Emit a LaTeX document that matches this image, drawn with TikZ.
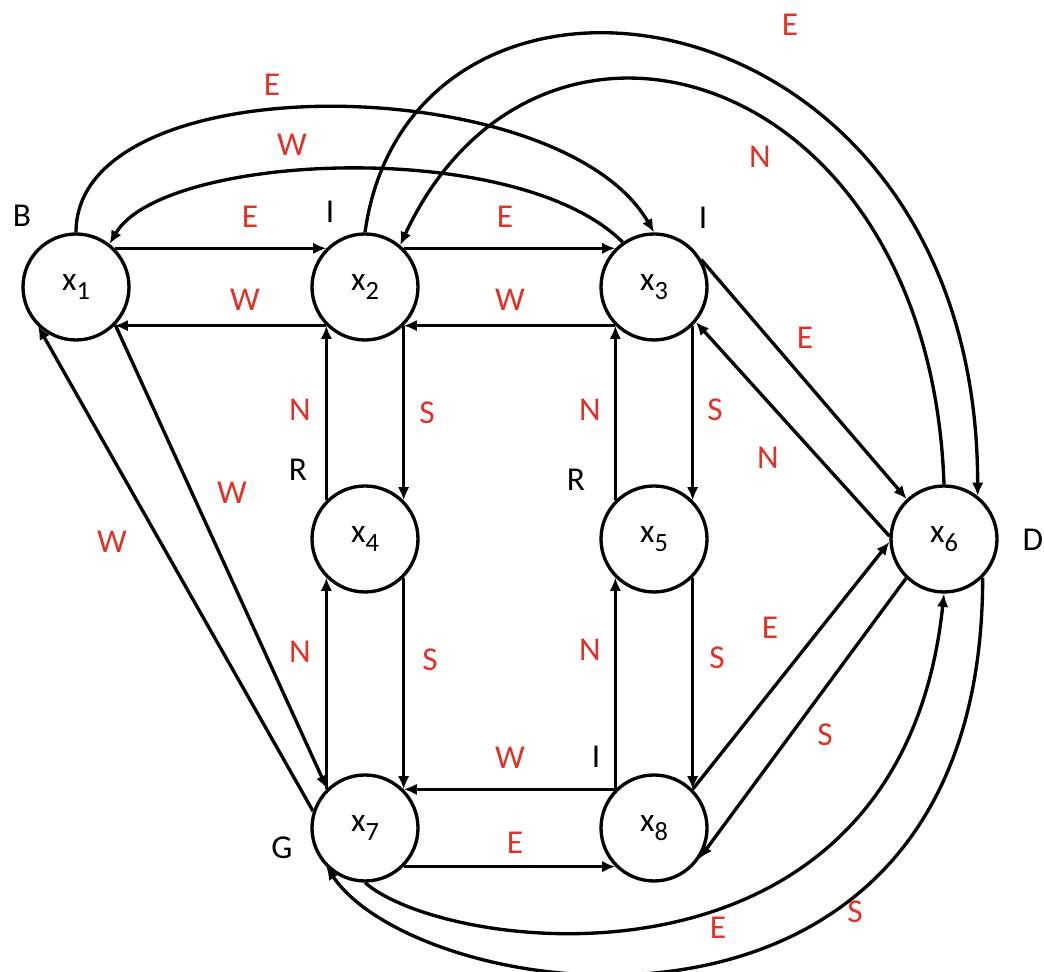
\documentclass[tikz,border=0pt]{standalone}
\usepackage{fontspec}
\setmainfont{Carlito}
\definecolor{dirred}{RGB}{224,50,38}
\usetikzlibrary{arrows.meta}
\newcommand{\xn}[1]{x\raisebox{-.55ex}{\fontsize{15}{15}\selectfont #1}}

\begin{document}
\begin{tikzpicture}[
  st/.style={draw, circle, line width=1.9pt, minimum size=2.12cm, inner sep=0pt, font=\fontsize{19}{22}\selectfont},
  arr/.style={line width=1.9pt, -{Latex[length=7.5pt,width=6.5pt]}},
  dirlbl/.style={text=dirred, font=\fontsize{19}{22}\selectfont},
  taglbl/.style={font=\fontsize{19}{22}\selectfont}
]
  \useasboundingbox (0,0) rectangle (20.88,19.44);

  \node[st] (x1) at (1.52,13.70) {\xn{1}};
  \node[st] (x2) at (7.30,13.70) {\xn{2}};
  \node[st] (x3) at (13.08,13.70) {\xn{3}};
  \node[st] (x4) at (7.30,8.66) {\xn{4}};
  \node[st] (x5) at (13.08,8.66) {\xn{5}};
  \node[st] (x6) at (18.88,8.66) {\xn{6}};
  \node[st] (x7) at (7.30,2.88) {\xn{7}};
  \node[st] (x8) at (13.08,2.88) {\xn{8}};

  \draw[arr] (x1.45) -- (x2.135);
  \draw[arr] (x2.-135) -- (x1.-45);
  \draw[arr] (x2.45) -- (x3.135);
  \draw[arr] (x3.-135) -- (x2.-45);
  \draw[arr] (x2.-45) -- (x4.45);
  \draw[arr] (x4.135) -- (x2.-135);
  \draw[arr] (x4.-45) -- (x7.45);
  \draw[arr] (x7.135) -- (x4.-135);
  \draw[arr] (x3.-45) -- (x5.45);
  \draw[arr] (x5.135) -- (x3.-135);
  \draw[arr] (x5.-45) -- (x8.45);
  \draw[arr] (x8.135) -- (x5.-135);
  \draw[arr] (x8.135) -- (x7.45);
  \draw[arr] (x7.-45) -- (x8.-135);
  \draw[arr] (x3.30) -- (x6.133);
  \draw[arr] (x6.177) -- (x3.-40);
  \draw[arr] (x8.45) -- (x6.183);
  \draw[arr] (x6.-134) -- (x8.-34);
  \draw[arr] (x7.162) -- (x1.-134);
  \draw[arr] (x1.-44) -- (x7.134);

  \draw[arr] (x1.north) .. controls +(90:3.4) and +(120:3.76) .. (x3.north);
  \draw[arr] (x3.125) .. controls +(135:3) and +(60:2.1) .. (x1.52);
  \draw[arr] (x2.north) .. controls +(82:6.7) and +(90:10.3) .. (x6.52);
  \draw[arr] (x6.north) .. controls +(92:8.4) and +(65:6.5) .. (x2.50);
  \draw[arr] (x7.south) .. controls +(-41:2.2) and +(-96:8.4) .. (x6.south);
  \draw[arr] (x6.-45) .. controls +(-90:10.26) and +(-56:3.37) .. (x7.-135);

  \node[dirlbl] (d13) at (5.44,17.74) {E};
  \node[dirlbl] (d31) at (5.84,16.54) {W};
  \node[dirlbl] (d12) at (5.00,15.10) {E};
  \node[dirlbl] (d21) at (4.90,13.44) {W};
  \node[dirlbl] (d23) at (10.10,15.10) {E};
  \node[dirlbl] (d32) at (10.20,13.44) {W};
  \node[dirlbl] (d26) at (15.80,18.94) {E};
  \node[dirlbl] (d62) at (15.20,16.30) {N};
  \node[dirlbl] (d36) at (16.10,12.68) {E};
  \node[dirlbl] (d63) at (15.36,10.28) {N};
  \node[dirlbl] (d42) at (6.00,11.24) {N};
  \node[dirlbl] (d24) at (8.54,11.18) {S};
  \node[dirlbl] (d53) at (11.80,11.24) {N};
  \node[dirlbl] (d35) at (14.30,11.24) {S};
  \node[dirlbl] (d17) at (4.64,9.58) {W};
  \node[dirlbl] (d71) at (2.24,8.60) {W};
  \node[dirlbl] (d74) at (6.00,6.40) {N};
  \node[dirlbl] (d47) at (8.60,6.24) {S};
  \node[dirlbl] (d85) at (11.80,6.44) {N};
  \node[dirlbl] (d58) at (14.34,6.28) {S};
  \node[dirlbl] (d86) at (15.40,6.88) {E};
  \node[dirlbl] (d68) at (16.50,4.74) {S};
  \node[dirlbl] (d87) at (10.20,4.28) {W};
  \node[dirlbl] (d78) at (10.30,2.58) {E};
  \node[dirlbl] (d76) at (14.36,0.88) {E};
  \node[dirlbl] (d67) at (17.10,1.20) {S};

  \node[taglbl] (t1) at (0.44,15.12) {B};
  \node[taglbl] (t2) at (6.60,15.20) {I};
  \node[taglbl] (t3) at (14.06,15.08) {I};
  \node[taglbl] (t4) at (5.96,10.04) {R};
  \node[taglbl] (t5) at (11.52,9.84) {R};
  \node[taglbl] (t6) at (20.66,8.64) {D};
  \node[taglbl] (t7) at (5.64,2.48) {G};
  \node[taglbl] (t8) at (11.92,4.30) {I};
\end{tikzpicture}
\end{document}
